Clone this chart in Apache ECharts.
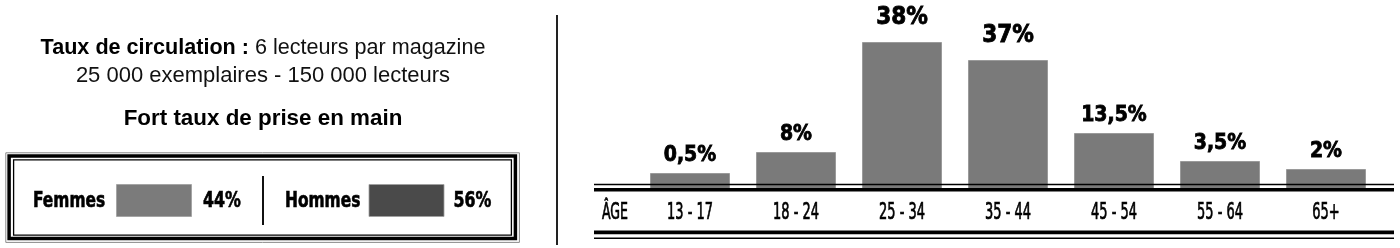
<!DOCTYPE html>
<html>
<head>
<meta charset="utf-8">
<script src="https://cdn.jsdelivr.net/npm/echarts@6/dist/echarts.min.js"></script>
<style>
html,body{margin:0;padding:0;background:#fff;}
#c{width:1400px;height:248px;}
</style>
</head>
<body>
<div id="c"></div>
<script>
// ---- data ----
var ageGroups = ['13 - 17', '18 - 24', '25 - 34', '35 - 44', '45 - 54', '55 - 64', '65+'];
var ageShareLabels = ['0,5%', '8%', '38%', '37%', '13,5%', '3,5%', '2%'];
// bar heights as drawn in the picture (designer scale, not proportional to the %)
var barHeights = [17, 38, 148, 130, 57, 29, 21];
var genderNames = ['Femmes', 'Hommes'];
var genderShares = [44, 56];
var infoLine1Bold = 'Taux de circulation :';
var infoLine1 = ' 6 lecteurs par magazine';
var infoLine2 = '25 000 exemplaires - 150 000 lecteurs';
var infoLine3 = 'Fort taux de prise en main';
var axisTitle = 'ÂGE';

var NARROW = '"DejaVu Sans Condensed", "DejaVu Sans", sans-serif';
var SANS = '"Liberation Sans", Arial, sans-serif';

var chart = echarts.init(document.getElementById('c'), null, {renderer: 'canvas'});

var bigSet = {'38%': true, '37%': true};
var seriesData = barHeights.map(function (h, i) {
  var big = bigSet[ageShareLabels[i]];
  return {
    value: h,
    label: {
      fontSize: big ? 24 : 21,
      distance: big ? 12 : 7
    }
  };
});

var graphics = [
  // info text
  {type: 'text', x: 263, y: 48, style: {
    text: '{b|' + infoLine1Bold + '}{r|' + infoLine1 + '}',
    align: 'center', verticalAlign: 'middle',
    rich: {
      b: {fontFamily: SANS, fontWeight: 'bold', fontSize: 21.6, fill: '#000'},
      r: {fontFamily: SANS, fontWeight: 'normal', fontSize: 21.6, fill: '#111'}
    }
  }},
  {type: 'text', x: 263, y: 76, style: {text: infoLine2, align: 'center', verticalAlign: 'middle',
    fontFamily: SANS, fontSize: 22, fill: '#111'}},
  {type: 'text', x: 263, y: 119, style: {text: infoLine3, align: 'center', verticalAlign: 'middle',
    fontFamily: SANS, fontWeight: 'bold', fontSize: 22.4, fill: '#000'}},
  // legend box frame
  {type: 'rect', shape: {x: 5.8, y: 152.8, width: 513.6, height: 89.6},
    style: {fill: null, stroke: '#8a8a8a', lineWidth: 1}},
  {type: 'rect', shape: {x: 9.1, y: 156, width: 506.3, height: 82.6},
    style: {fill: null, stroke: '#000', lineWidth: 3.5}},
  {type: 'rect', shape: {x: 13.6, y: 159.8, width: 497.8, height: 75.4},
    style: {fill: null, stroke: '#000', lineWidth: 1.3}},
  // legend separator
  {type: 'line', shape: {x1: 263, y1: 176, x2: 263, y2: 225}, style: {stroke: '#111', lineWidth: 2}},
  // main vertical separator
  {type: 'line', shape: {x1: 557, y1: 15, x2: 557, y2: 245}, style: {stroke: '#222', lineWidth: 2}},
  // axis decorative rules
  {type: 'line', z: 100, shape: {x1: 594, y1: 184.5, x2: 1394, y2: 184.5}, style: {stroke: '#000', lineWidth: 1.4}},
  {type: 'line', z: 100, shape: {x1: 594, y1: 189.7, x2: 1394, y2: 189.7}, style: {stroke: '#000', lineWidth: 3.6}},
  {type: 'line', z: 100, shape: {x1: 594, y1: 232.4, x2: 1394, y2: 232.4}, style: {stroke: '#000', lineWidth: 3.6}},
  {type: 'line', z: 100, shape: {x1: 594, y1: 238.3, x2: 1394, y2: 238.3}, style: {stroke: '#000', lineWidth: 1.4}},
  {type: 'text', x: 615, y: 213, scaleX: 0.62, style: {text: axisTitle, align: 'center', verticalAlign: 'middle',
    fontFamily: NARROW, fontSize: 22.5, fill: '#000', stroke: '#000', lineWidth: 0.7}}
];

// gender legend items built from arrays
var genderLayout = [
  {label: 33, sw: 116.5, pct: 203, color: '#7b7b7b'},
  {label: 285, sw: 369, pct: 453.5, color: '#4a4a4a'}
];
genderNames.forEach(function (name, i) {
  var L = genderLayout[i];
  graphics.push({type: 'text', x: L.label, y: 201, scaleX: 0.78, style: {text: name, align: 'left', verticalAlign: 'middle',
    fontFamily: NARROW, fontWeight: 'bold', fontSize: 22, fill: '#000', stroke: '#000', lineWidth: 0.6}});
  graphics.push({type: 'rect', shape: {x: L.sw, y: 184.5, width: 75, height: 32},
    style: {fill: L.color, stroke: '#a0a0a0', lineWidth: 0.8}});
  graphics.push({type: 'text', x: L.pct, y: 201, scaleX: 0.8, style: {text: genderShares[i] + '%', align: 'left', verticalAlign: 'middle',
    fontFamily: NARROW, fontWeight: 'bold', fontSize: 22, fill: '#000', stroke: '#000', lineWidth: 0.6}});
});

var option = {
  animation: false,
  backgroundColor: '#fff',
  grid: {left: 637, right: 21, top: 40, bottom: 58},
  xAxis: {
    type: 'category',
    data: ageGroups,
    axisLine: {show: false},
    axisTick: {show: false},
    axisLabel: {show: false}
  },
  yAxis: {
    type: 'value', min: 0, max: 150,
    show: false,
    splitLine: {show: false}
  },
  series: [{
    type: 'bar',
    data: seriesData,
    barWidth: 80,
    itemStyle: {color: '#7a7a7a', borderColor: '#9a9a9a', borderWidth: 1},
    label: {
      show: true, position: 'top', color: '#000',
      fontFamily: NARROW, fontWeight: 'bold',
      textBorderColor: '#000', textBorderWidth: 0.8,
      formatter: function (p) { return ageShareLabels[p.dataIndex]; }
    }
  }, {
    // condensed category labels placed through the category axis scale
    type: 'custom',
    silent: true,
    clip: false,
    data: ageGroups.map(function (g) { return [g, 0]; }),
    renderItem: function (params, api) {
      var pt = api.coord([api.value(0), 0]);
      return {
        type: 'text',
        x: pt[0], y: pt[1] + 23, scaleX: 0.64,
        style: {
          text: ageGroups[params.dataIndex], align: 'center', verticalAlign: 'middle',
          fontFamily: NARROW, fontSize: 22.5, fill: '#000', stroke: '#000', lineWidth: 0.7
        }
      };
    }
  }],
  graphic: graphics
};
chart.setOption(option);
</script>
</body>
</html>
